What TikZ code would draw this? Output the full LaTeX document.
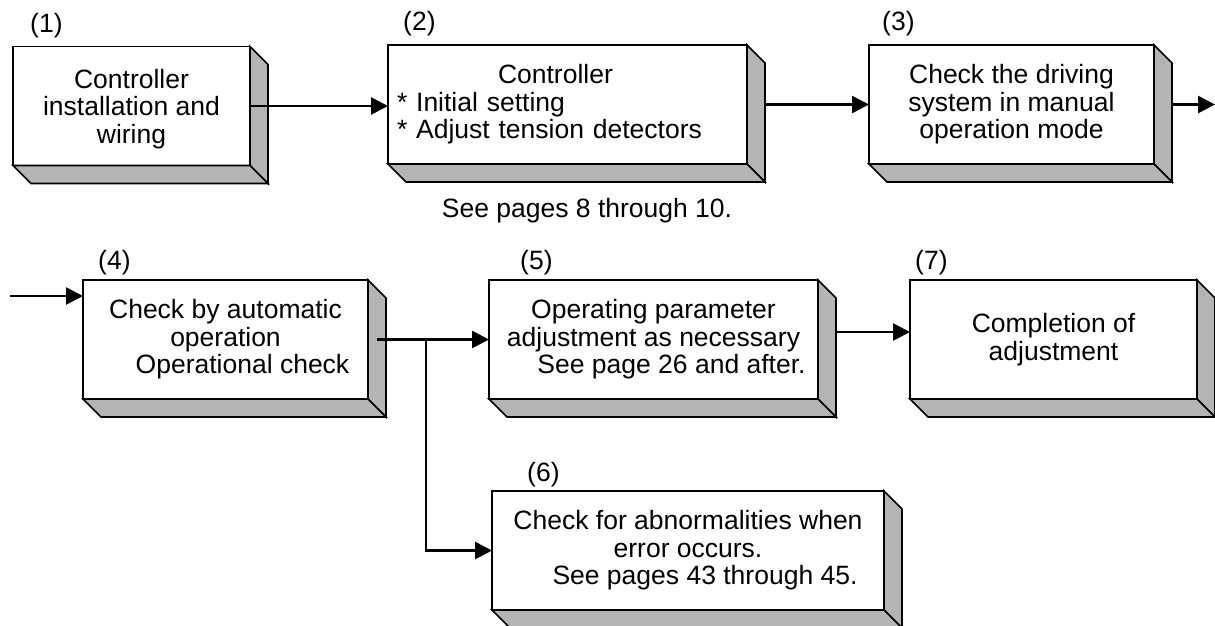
\documentclass[tikz,border=0pt]{standalone}
\usepackage{fontspec}
\setmainfont{Liberation Sans}
\usetikzlibrary{arrows.meta}
\definecolor{depthgray}{RGB}{180,180,180}
\newcommand\drawdepth[1]{%
  \filldraw[fill=depthgray,draw=black,line width=1.6pt,line join=miter]
    (#1.north east) -- ++(18,18) -- ([shift={(18,18)}]#1.south east) -- (#1.south east) -- cycle;
  \filldraw[fill=depthgray,draw=black,line width=1.6pt,line join=miter]
    (#1.south west) -- (#1.south east) -- ++(18,18) -- ([shift={(18,18)}]#1.south west) -- cycle;}
\tikzset{
  stepbox/.style={draw=black, fill=white, line width=1.6pt, inner sep=0pt, outer sep=0pt,
    minimum height=119pt, align=center, font=\fontsize{26.5}{27.5}\selectfont},
  numlabel/.style={anchor=west, inner sep=0pt, font=\fontsize{26.5}{27.5}\selectfont},
  notetext/.style={inner sep=0pt, font=\fontsize{26.5}{27.5}\selectfont},
  conn/.style={line width=2.7pt, -{Triangle[length=17pt,width=17pt]}},
}
\begin{document}
\begin{tikzpicture}[x=1pt,y=-1pt]
\useasboundingbox (0,0) rectangle (1215,625);
% boxes
\node[stepbox, minimum width=237pt] (b1) at (131.5,106) {\rule{0pt}{25pt}Controller\\installation and\\wiring};
\node[stepbox, minimum width=359pt, text width=341pt, align=left, inner xsep=9pt] (b2) at (567.5,104.5)
  {\hspace*{101pt}Controller\\{}* Initial setting\\{}* Adjust tension detectors};
\node[stepbox, minimum width=285pt] (b3) at (1011.5,104.5) {Check the driving\\system in manual\\operation mode};
\node[stepbox, minimum width=285pt] (b4) at (225.5,339.5) {Check by automatic\\operation\\\hspace*{34pt}Operational check};
\node[stepbox, minimum width=329pt] (b5) at (653.5,339.5) {Operating parameter\\adjustment as necessary\\\hspace*{36pt}See page 26 and after.};
\node[stepbox, minimum width=287pt] (b7) at (1053.5,339.5) {Completion of\\adjustment};
\node[stepbox, minimum width=392pt] (b6) at (688,550.5) {Check for abnormalities when\\error occurs.\\\hspace*{34pt}See pages 43 through 45.};
\drawdepth{b1}
\drawdepth{b2}
\drawdepth{b3}
\drawdepth{b4}
\drawdepth{b5}
\drawdepth{b7}
\drawdepth{b6}
% labels
\node[numlabel] (l1) at (30,26) {(1)};
\node[numlabel] (l2) at (403,24) {(2)};
\node[numlabel] (l3) at (882,24) {(3)};
\node[numlabel] (l4) at (98,263) {(4)};
\node[numlabel] (l5) at (520,263) {(5)};
\node[numlabel] (l7) at (915,263) {(7)};
\node[numlabel] (l6) at (527,475) {(6)};
\node[notetext] (note2) at (587,211) {See pages 8 through 10.};
% connectors
\draw[conn] (b1.east) -- (b1.east -| b2.west);
\draw[conn] ([xshift=18pt]b2.east) -- (b2.east -| b3.west);
\coordinate (out3) at (1215,104.5);
\draw[conn] ([xshift=18pt]b3.east) -- (out3);
\coordinate (in4) at (10,296);
\draw[conn] (in4) -- (in4 -| b4.west);
\draw[conn] ([xshift=9pt]b4.east) -- (b4.east -| b5.west);
\coordinate (br) at (426,339.5);
\draw[conn] (br) |- (b6.west);
\draw[conn] ([shift={(18,-7.5)}]b5.east) coordinate (s57) -- (s57 -| b7.west);
\end{tikzpicture}
\end{document}
